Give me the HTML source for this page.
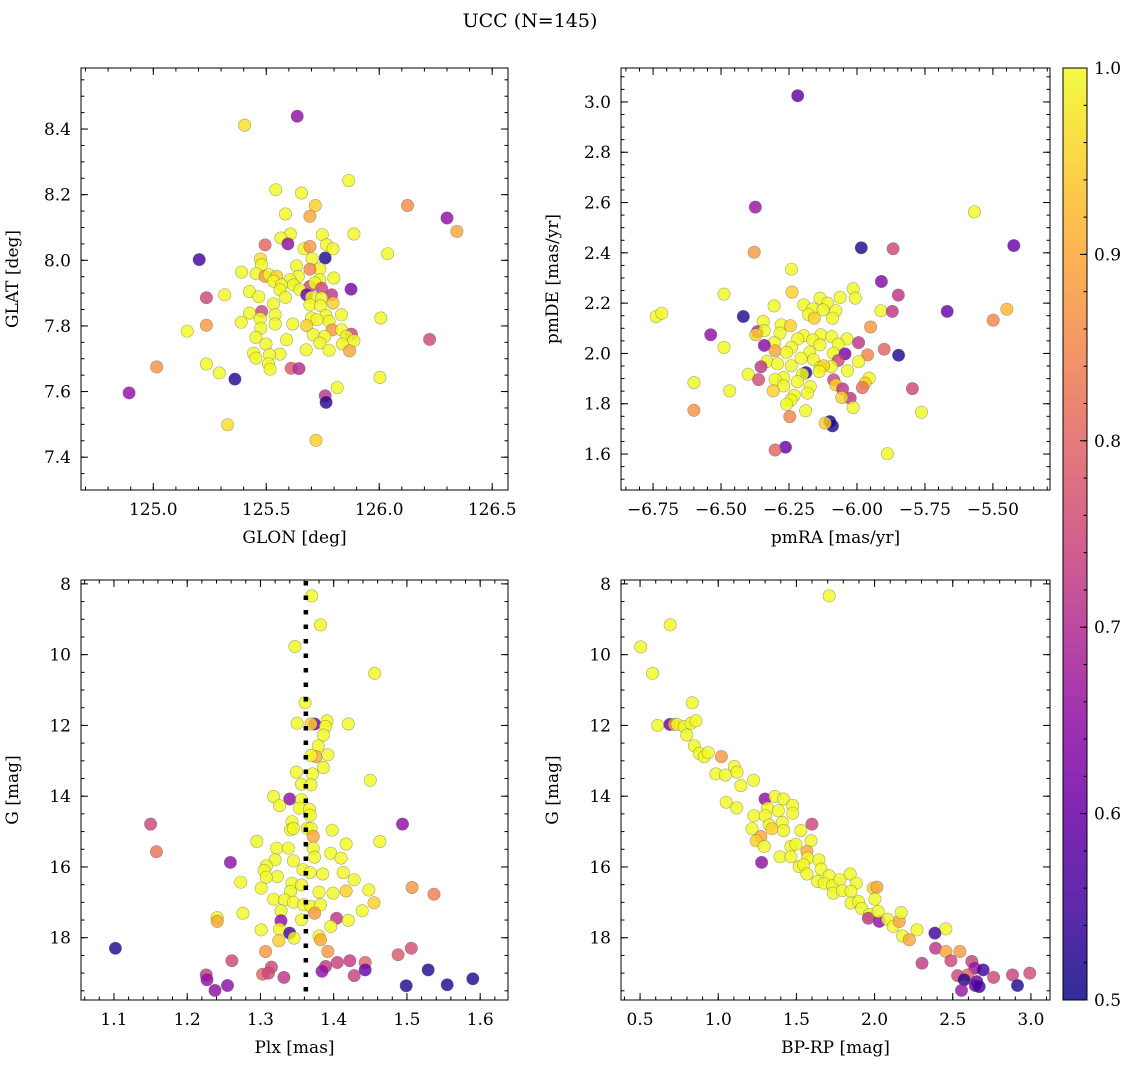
<!DOCTYPE html>
<html><head><meta charset="utf-8"><style>
body{margin:0;background:#fff;}
svg{display:block;font-family:"DejaVu Serif","Liberation Serif",serif;}
</style></head><body>
<svg id="fig" width="1136" height="1067" viewBox="0 0 1136 1067" xmlns="http://www.w3.org/2000/svg">
<text x="530" y="27" text-anchor="middle" font-size="19">UCC (N=145)</text>
<g id="panels"></g>
</svg>
<script>
// Panel 1: GLON vs GLAT
const p1x=[125.637,125.404,125.865,125.542,125.656,125.717,126.125,126.30,126.344,125.585,125.693,125.888,125.607,125.565,125.495,125.596,125.748,125.767,125.796,125.667,125.693,125.761,125.203,126.037,125.703,125.474,125.634,125.479,125.737,125.693,125.391,125.455,125.495,125.513,125.546,125.642,125.605,125.799,125.737,125.532,125.568,125.620,125.693,125.715,125.875,125.649,125.561,125.426,125.316,125.679,125.789,125.745,125.235,125.467,125.585,125.700,125.745,125.796,125.532,125.693,125.740,125.480,125.426,125.539,125.833,125.764,125.700,125.473,125.725,126.007,125.778,125.389,125.617,125.539,125.679,125.235,125.476,125.150,125.792,125.833,125.708,125.877,125.855,125.759,125.454,125.590,125.888,126.223,125.737,125.837,125.499,125.677,125.869,125.778,125.444,125.561,125.514,125.454,125.510,125.235,125.015,125.610,125.645,125.517,125.292,125.361,126.003,125.814,125.761,125.765,124.893,125.329,125.720];
const p1y=[8.439,8.412,8.243,8.215,8.205,8.167,8.167,8.129,8.088,8.141,8.134,8.080,8.080,8.068,8.047,8.050,8.078,8.047,8.035,8.035,8.042,8.007,8.002,8.020,8.005,8.004,7.983,7.986,7.974,7.973,7.964,7.959,7.951,7.956,7.951,7.951,7.941,7.946,7.941,7.936,7.925,7.925,7.920,7.931,7.912,7.910,7.910,7.905,7.895,7.895,7.895,7.915,7.886,7.889,7.887,7.887,7.885,7.870,7.867,7.864,7.862,7.844,7.839,7.834,7.834,7.832,7.824,7.822,7.819,7.824,7.814,7.811,7.806,7.806,7.801,7.802,7.793,7.784,7.788,7.788,7.773,7.775,7.768,7.768,7.765,7.758,7.755,7.759,7.748,7.745,7.745,7.727,7.724,7.726,7.717,7.714,7.712,7.702,7.685,7.684,7.675,7.671,7.670,7.668,7.657,7.638,7.643,7.612,7.587,7.567,7.596,7.499,7.451];
const p1c=[.65,.97,1,1,1,.95,.86,.65,.9,1,.9,1,1,1,.8,.65,1,1,1,1,.88,.52,.55,1,1,.97,1,1,1,.85,1,1,.88,1,.95,1,1,1,1,1,1,1,.75,1,.62,1,1,1,1,.6,.72,.75,.75,1,1,1,1,.95,1,1,1,.75,1,1,1,1,1,1,1,1,1,1,1,1,.95,.88,1,1,.88,1,1,.75,1,1,1,1,1,.75,1,1,1,1,.9,1,1,1,1,1,1,1,.87,.78,.7,1,1,.52,1,1,.72,.52,.65,.97,.95];
// Panel 2: pmRA vs pmDE
const p2x=[-6.218,-6.374,-5.568,-6.378,-5.984,-5.867,-5.423,-6.241,-5.910,-5.848,-6.489,-6.239,-6.014,-6.006,-6.062,-6.136,-6.108,-6.196,-6.305,-6.163,-6.125,-6.078,-6.178,-6.090,-6.157,-5.912,-5.870,-5.668,-5.449,-5.499,-6.738,-6.718,-6.418,-6.345,-6.279,-6.245,-5.950,-6.366,-6.341,-6.283,-6.538,-6.372,-6.196,-6.133,-6.093,-6.037,-6.163,-6.218,-6.304,-5.994,-6.341,-6.136,-6.069,-6.489,-6.241,-6.301,-6.259,-6.174,-6.087,-6.044,-5.900,-5.847,-5.961,-6.069,-6.206,-6.160,-6.331,-6.292,-6.242,-5.994,-6.353,-6.135,-6.094,-6.123,-6.188,-6.200,-6.139,-6.035,-6.400,-6.270,-6.362,-6.301,-6.219,-6.086,-5.955,-5.970,-6.078,-6.270,-6.172,-6.600,-6.053,-5.796,-5.980,-6.308,-6.468,-6.182,-6.231,-6.025,-6.056,-6.243,-6.259,-6.014,-6.189,-6.600,-5.763,-6.247,-6.100,-6.090,-6.117,-6.263,-6.301,-5.888];
const p2y=[3.025,2.582,2.563,2.402,2.420,2.416,2.429,2.335,2.286,2.232,2.236,2.244,2.257,2.220,2.223,2.220,2.200,2.193,2.189,2.177,2.173,2.170,2.154,2.140,2.140,2.170,2.167,2.167,2.176,2.132,2.147,2.160,2.147,2.127,2.114,2.110,2.105,2.087,2.091,2.081,2.074,2.074,2.071,2.074,2.067,2.058,2.054,2.058,2.043,2.043,2.032,2.034,2.037,2.024,2.024,2.011,2.004,2.005,2.001,1.998,2.017,1.993,1.994,1.972,1.981,1.975,1.968,1.959,1.951,1.967,1.947,1.945,1.948,1.951,1.924,1.917,1.928,1.931,1.917,1.904,1.896,1.896,1.888,1.895,1.902,1.882,1.875,1.871,1.868,1.884,1.859,1.860,1.864,1.851,1.851,1.842,1.833,1.822,1.825,1.815,1.798,1.785,1.772,1.774,1.766,1.749,1.729,1.712,1.723,1.627,1.616,1.601];
const p2c=[.58,.66,1,.88,.52,.75,.6,1,.63,.72,1,.95,1,1,1,1,1,1,1,1,1,1,1,1,.95,1,.72,.6,.92,.85,1,1,.52,1,1,.95,.88,.7,1,1,.65,.95,1,1,1,1,1,1,1,.72,.64,1,1,1,1,.9,1,1,1,.62,.8,.52,.85,.75,1,1,1,1,1,1,.72,1,1,.95,.52,1,1,1,1,1,.76,1,1,.75,1,.95,.95,1,1,1,.72,.75,.82,.95,1,1,1,.72,.95,1,1,1,1,.87,1,.85,.5,.52,.95,.6,.8,1];
// Panel 3: Plx vs G
const p3x=[1.370,1.382,1.347,1.456,1.361,1.350,1.374,1.369,1.391,1.389,1.420,1.386,1.379,1.376,1.369,1.392,1.386,1.349,1.371,1.356,1.369,1.450,1.318,1.340,1.326,1.356,1.353,1.367,1.368,1.343,1.341,1.345,1.364,1.369,1.372,1.398,1.150,1.494,1.158,1.295,1.463,1.322,1.338,1.320,1.372,1.396,1.417,1.410,1.374,1.345,1.259,1.308,1.305,1.358,1.368,1.385,1.413,1.323,1.308,1.428,1.273,1.343,1.356,1.301,1.507,1.341,1.380,1.399,1.417,1.448,1.537,1.318,1.333,1.345,1.359,1.369,1.382,1.455,1.439,1.328,1.374,1.276,1.241,1.241,1.404,1.328,1.356,1.420,1.396,1.301,1.326,1.340,1.346,1.380,1.382,1.325,1.102,1.307,1.392,1.506,1.488,1.261,1.405,1.422,1.443,1.389,1.315,1.303,1.311,1.332,1.384,1.443,1.428,1.529,1.590,1.499,1.555,1.226,1.227,1.238,1.255];
const p3y=[8.34,9.16,9.77,10.53,11.36,11.94,11.96,11.96,11.87,12.03,11.96,12.27,12.58,12.88,12.85,12.83,13.19,13.32,13.37,13.66,13.68,13.55,14.01,14.08,14.27,14.10,14.34,14.37,14.54,14.72,14.95,14.91,14.91,14.91,15.14,14.96,14.79,14.79,15.57,15.28,15.28,15.47,15.47,15.80,15.47,15.61,15.35,15.75,15.72,15.83,15.87,15.97,16.10,16.08,16.16,16.20,16.16,16.27,16.29,16.36,16.43,16.46,16.51,16.60,16.58,16.69,16.71,16.74,16.68,16.65,16.77,16.91,16.93,17.00,17.07,17.12,17.07,17.01,17.24,17.24,17.31,17.31,17.43,17.54,17.45,17.52,17.49,17.51,17.68,17.78,17.76,17.87,18.01,17.95,18.06,18.08,18.30,18.39,18.39,18.30,18.48,18.65,18.70,18.65,18.70,18.81,18.83,19.03,19.00,19.12,18.95,18.91,19.07,18.91,19.16,19.36,19.33,19.05,19.19,19.49,19.35];
const p3c=[1,1,1,1,1,1,.6,.95,1,1,1,1,1,.9,1,1,1,1,1,1,1,1,1,.65,1,1,1,1,1,1,1,1,1,1,.9,1,.75,.65,.82,1,1,1,1,1,1,1,1,1,1,1,.65,1,1,1,1,1,1,1,1,1,1,1,1,1,.88,1,1,1,.95,1,.84,1,1,1,1,1,1,.95,1,1,.88,1,1,.9,.72,.65,1,1,1,1,1,.55,1,1,.9,.95,.52,.88,.88,.76,.78,.75,.74,.73,.8,.72,.75,.8,.75,.72,.65,.6,.74,.52,.52,.52,.52,.73,.65,.65,.65];
const plxRef=1.362;
// Panel 4: BP-RP vs G
const p4x=[1.710,0.693,0.504,0.580,0.834,0.612,0.691,0.719,0.736,0.783,0.826,0.858,0.798,0.847,0.879,0.911,0.936,1.020,0.985,1.045,1.103,1.120,1.145,1.226,1.051,1.118,1.299,1.363,1.418,1.476,1.476,1.316,1.384,1.228,1.301,1.326,1.410,1.599,1.216,1.343,1.418,1.529,1.273,1.243,1.294,1.593,1.465,1.497,1.395,1.465,1.567,1.572,1.644,1.277,1.518,1.546,1.567,1.657,1.710,1.635,1.678,1.731,1.778,1.844,1.883,1.736,1.795,1.849,1.991,2.015,2.002,1.849,1.898,1.917,1.966,1.960,2.030,2.023,2.083,2.119,2.158,2.170,2.179,2.222,2.271,2.456,2.386,2.390,2.456,2.545,2.488,2.303,2.622,2.641,2.695,2.531,2.595,2.573,2.654,2.761,2.882,2.993,2.914,2.644,2.669,2.556];
const p4y=[8.34,9.16,9.78,10.53,11.36,12.00,11.97,11.97,11.97,12.03,11.94,11.87,12.27,12.58,12.79,12.88,12.77,12.88,13.37,13.40,13.16,13.32,13.70,13.55,14.17,14.33,14.08,14.01,14.08,14.26,14.48,14.34,14.41,14.55,14.55,14.81,14.74,14.79,14.92,14.92,14.97,14.97,15.14,15.26,15.42,15.26,15.42,15.36,15.71,15.71,15.56,15.75,15.80,15.87,15.99,15.94,16.20,16.06,16.25,16.41,16.46,16.53,16.36,16.20,16.46,16.74,16.67,16.69,16.60,16.57,16.91,17.02,16.98,17.17,17.34,17.45,17.54,17.26,17.48,17.68,17.54,17.29,17.95,18.06,17.78,17.75,17.87,18.30,18.39,18.39,18.65,18.72,18.67,18.86,18.91,19.07,19.05,19.19,19.24,19.12,19.05,19.00,19.35,19.35,19.38,19.49];
const p4c=[1,1,1,1,1,1,.6,.9,1,1,1,1,1,1,1,1,1,.88,1,1,1,1,1,1,1,1,.65,1,1,1,1,1,1,1,1,1,1,.75,1,.95,1,1,.9,.95,1,1,1,1,1,1,.9,1,1,.65,1,1,1,1,1,1,1,1,1,1,1,1,1,1,.95,.9,1,1,1,1,1,.72,.65,1,1,1,.9,1,1,.9,1,1,.55,.72,.9,.88,.75,.73,.74,.66,.55,.75,.8,.52,.6,.75,.74,.76,.52,.6,.55,.66];
// Colorbar ticks
const cbTicks=[0.5,0.6,0.7,0.8,0.9,1.0];

const NS='http://www.w3.org/2000/svg';
const root=document.getElementById('panels');
const stops=['#0d0887','#41049d','#6a00a8','#8f0da4','#b12a90','#cc4778','#e16462','#f2844b','#fca636','#fcce25','#f0f921'];
function hex(h){return [1,3,5].map(i=>parseInt(h.substr(i,2),16));}
function plasma(t){t=Math.max(0,Math.min(1,t));const f=t*10,i=Math.min(9,Math.floor(f)),u=f-i;const a=hex(stops[i]),b=hex(stops[i+1]);return 'rgb('+a.map((v,k)=>Math.round(v+(b[k]-v)*u)).join(',')+')';}
function cmap(c){return plasma((c-0.5)/0.5);}
function mk(tag,attrs,parent){const e=document.createElementNS(NS,tag);for(const k in attrs)e.setAttribute(k,attrs[k]);(parent||root).appendChild(e);return e;}
function fmt(v,d){let s=v.toFixed(d);return s.replace('-','\u2212');}

function panel(name,box,xd,yd,xmaj,xmin,ymaj,ymin,xdec,ydec,xs,ys,cs,xlabel,ylabel,invert){
  const [L,T,R,B]=box;
  const g=mk('g',{});
  
  
  const sx=v=>L+(v-xd[0])/(xd[1]-xd[0])*(R-L);
  const sy=v=>invert? T+(v-yd[0])/(yd[1]-yd[0])*(B-T) : B-(v-yd[0])/(yd[1]-yd[0])*(B-T);
  const pts=mk('g',{},g);
  
  
  for(let i=0;i<xs.length;i++){
    const c=mk('circle',{cx:sx(xs[i]).toFixed(1),cy:sy(ys[i]).toFixed(1),r:6.2,fill:cmap(cs[i]),'fill-opacity':0.82,stroke:'#555','stroke-opacity':0.5,'stroke-width':0.6},pts);
    
    
  }
  const ax=mk('g',{stroke:'#000','stroke-width':1},g);
  
  
  mk('rect',{x:L,y:T,width:R-L,height:B-T,fill:'none'},ax);
  function ticksX(step,len){const s=Math.ceil(xd[0]/step-1e-6);for(let k=s;k*step<=xd[1]+1e-9;k++){const x=sx(k*step);mk('line',{x1:x,x2:x,y1:B,y2:B-len},ax);mk('line',{x1:x,x2:x,y1:T,y2:T+len},ax);}}
  function ticksY(step,len){const lo=Math.min(yd[0],yd[1]),hi=Math.max(yd[0],yd[1]);const s=Math.ceil(lo/step-1e-6);for(let k=s;k*step<=hi+1e-9;k++){const y=sy(k*step);mk('line',{x1:L,x2:L+len,y1:y,y2:y},ax);mk('line',{x1:R,x2:R-len,y1:y,y2:y},ax);}}
  ticksX(xmin,3.5);ticksX(xmaj,7);ticksY(ymin,3.5);ticksY(ymaj,7);
  const tl=mk('g',{'font-size':17,fill:'#000'},g);
  {const s=Math.ceil(xd[0]/xmaj-1e-6);for(let k=s;k*xmaj<=xd[1]+1e-9;k++){const t=mk('text',{x:sx(k*xmaj),y:B+25,'text-anchor':'middle'},tl);t.textContent=fmt(k*xmaj,xdec);}}
  {const lo=Math.min(yd[0],yd[1]),hi=Math.max(yd[0],yd[1]);const s=Math.ceil(lo/ymaj-1e-6);for(let k=s;k*ymaj<=hi+1e-9;k++){const t=mk('text',{x:L-10,y:sy(k*ymaj)+6,'text-anchor':'end'},tl);t.textContent=fmt(k*ymaj,ydec);}}
  const xl=mk('text',{x:(L+R)/2,y:B+53,'text-anchor':'middle','font-size':17},g);xl.textContent=xlabel;
  
  
  const cxl=L-63, cyl=(T+B)/2;
  const yl=mk('text',{x:cxl,y:cyl,'text-anchor':'middle','font-size':17,transform:'rotate(-90 '+cxl+' '+cyl+')'},g);yl.textContent=ylabel;
  
  
  return {sx,sy,g};
}
panel('panel-glon-glat',[81,68,508,490],[124.68,126.57],[7.30,8.586],0.5,0.1,0.2,0.05,1,1,p1x,p1y,p1c,'GLON [deg]','GLAT [deg]',false);
panel('panel-pm',[621,68,1050,490],[-6.868,-5.29],[1.457,3.135],0.25,0.05,0.2,0.05,2,1,p2x,p2y,p2c,'pmRA [mas/yr]','pmDE [mas/yr]',false);
const P3=panel('panel-plx-g',[81,580,508,1000],[1.055,1.638],[7.89,19.76],0.1,0.02,2,0.5,1,0,p3x,p3y,p3c,'Plx [mas]','G [mag]',true);
const ref=mk('line',{x1:P3.sx(plxRef),x2:P3.sx(plxRef),y1:581,y2:999,stroke:'#000','stroke-width':4.5,'stroke-dasharray':'4.5 10'},P3.g);


panel('panel-cmd',[621,580,1050,1000],[0.378,3.122],[7.89,19.76],0.5,0.1,2,0.5,1,0,p4x,p4y,p4c,'BP-RP [mag]','G [mag]',true);

// colorbar
const cb=mk('g',{});


const defs=mk('defs',{},cb);
const lg=mk('linearGradient',{id:'pl',x1:0,y1:1,x2:0,y2:0},defs);
stops.forEach((s,i)=>mk('stop',{offset:i/10,'stop-color':s},lg));
mk('rect',{x:1063,y:68,width:24,height:932,fill:'url(#pl)','fill-opacity':0.85,stroke:'#000','stroke-width':1},cb);
const cy=v=>1000-(v-0.5)/0.5*932;
for(let v=0.5;v<=1.0001;v+=0.02){mk('line',{x1:1087,x2:1083.5,y1:cy(v),y2:cy(v),stroke:'#000'},cb);}
cbTicks.forEach(v=>{mk('line',{x1:1087,x2:1080,y1:cy(v),y2:cy(v),stroke:'#000'},cb);const t=mk('text',{x:1094,y:cy(v)+6,'font-size':17},cb);t.textContent=v.toFixed(1);});
</script>
</body></html>
